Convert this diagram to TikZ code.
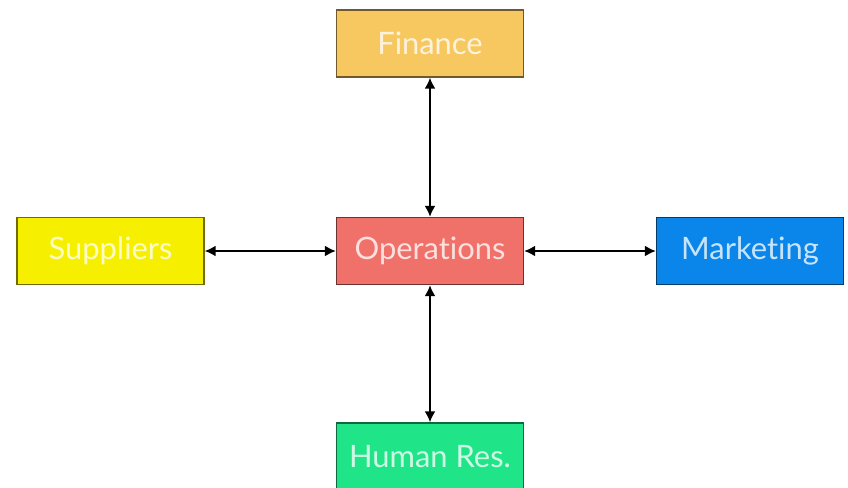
\documentclass[tikz,border=0pt]{standalone}
\usepackage{fontspec}
\setmainfont{Lato}[Ligatures=NoCommon]
\usetikzlibrary{arrows.meta}
\definecolor{finfill}{HTML}{F8C860}
\definecolor{supfill}{HTML}{F6F000}
\definecolor{opsfill}{HTML}{F0706A}
\definecolor{mktfill}{HTML}{0A86EA}
\definecolor{hrfill}{HTML}{20E488}
\begin{document}
\begin{tikzpicture}[x=1bp,y=-1bp,
  unit/.style={draw=#1!45!black, line width=1.4bp, fill=#1,
    text=white!78!#1, minimum width=187bp, minimum height=67bp,
    inner sep=0pt, font=\fontsize{31}{34}\selectfont},
  link/.style={line width=1.8bp, {Latex[length=11bp,width=11bp]}-{Latex[length=11bp,width=11bp]}}]
  \useasboundingbox (0,0) rectangle (848,488);
  \clip (0,0) rectangle (848,488);
  \fill[white] (0,0) rectangle (848,488);
  \node[unit=finfill] (fin) at (430,43.5) {Finance};
  \node[unit=supfill] (sup) at (110.5,251) {Suppliers};
  \node[unit=opsfill] (ops) at (430,251) {Operations};
  \node[unit=mktfill] (mkt) at (750,251) {Marketing};
  \node[unit=hrfill] (hr) at (430,456.5) {Human Res.};
  \draw[link] (fin) -- (ops);
  \draw[link] (sup) -- (ops);
  \draw[link] (ops) -- (mkt);
  \draw[link] (ops) -- (hr);
\end{tikzpicture}
\end{document}
